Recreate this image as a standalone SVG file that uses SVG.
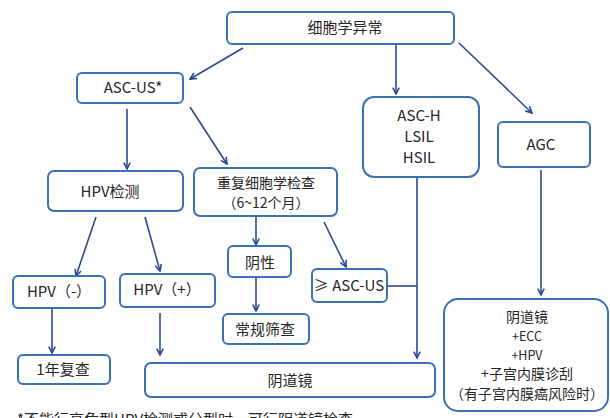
<svg xmlns="http://www.w3.org/2000/svg" width="610" height="418" viewBox="0 0 610 418">
<defs>
<marker id="ah" viewBox="0 0 10 10" refX="9" refY="5" markerWidth="8" markerHeight="8" markerUnits="userSpaceOnUse" orient="auto">
<path d="M1,1 L9,5 L1,9" fill="none" stroke="#2b4a94" stroke-width="2"/>
</marker>
<style>
.box{fill:#fff;stroke:#3d6fb6;stroke-width:2}
.t{font-family:"Noto Sans CJK SC","Open Sans",sans-serif;font-size:15px;fill:#262626;text-anchor:middle}
.m{font-size:14px}
.s{font-size:12.5px}
.c{fill:none;stroke:#2b4a94;stroke-width:1.6}
.a{marker-end:url(#ah)}
</style>
</defs>
<rect width="610" height="418" fill="#fff"/>
<g id="connectors">
<line class="c a" x1="243" y1="48" x2="190" y2="79"/>
<line class="c a" x1="396" y1="45" x2="396" y2="94"/>
<line class="c a" x1="459" y1="43" x2="532" y2="113"/>
<line class="c a" x1="127" y1="109" x2="127" y2="169"/>
<line class="c a" x1="190" y1="107" x2="227" y2="164"/>
<line class="c a" x1="96" y1="217" x2="76" y2="276"/>
<line class="c a" x1="145" y1="217" x2="160" y2="271"/>
<line class="c a" x1="256" y1="217" x2="256" y2="245"/>
<line class="c a" x1="324" y1="222" x2="346" y2="267"/>
<line class="c a" x1="256" y1="278" x2="256" y2="311"/>
<line class="c a" x1="52" y1="309" x2="52" y2="353"/>
<line class="c a" x1="160" y1="313" x2="160" y2="355"/>
<line class="c a" x1="417" y1="178" x2="417" y2="358"/>
<line class="c" x1="387" y1="286" x2="417" y2="286"/>
<line class="c a" x1="541" y1="170" x2="541" y2="295"/>
</g>
<g id="n-cyto"><rect class="box" x="227" y="12" width="227" height="32" rx="5"/><text class="t" x="345" y="33">细胞学异常</text></g>
<g id="n-ascus"><rect class="box" x="77" y="73" width="106" height="30" rx="5"/><text class="t" x="133" y="93">ASC-US*</text></g>
<g id="n-asch"><rect class="box" x="363" y="97" width="116" height="80" rx="11"/><text class="t" x="419" y="121">ASC-H</text><text class="t" x="419" y="142">LSIL</text><text class="t" x="419" y="163">HSIL</text></g>
<g id="n-agc"><rect class="box" x="498" y="122" width="92" height="45" rx="5"/><text class="t" x="541" y="150">AGC</text></g>
<g id="n-hpvtest"><rect class="box" x="48" y="171" width="135" height="40" rx="6"/><text class="t" x="110" y="197">HPV检测</text></g>
<g id="n-repeat"><rect class="box" x="194" y="168" width="143" height="48" rx="6"/><text class="t m" x="266" y="188">重复细胞学检查</text><text class="t m" x="266" y="208">（6~12个月）</text></g>
<g id="n-neg"><rect class="box" x="228" y="246" width="63" height="31" rx="5"/><text class="t" x="260" y="268">阴性</text></g>
<g id="n-geascus"><rect class="box" x="312" y="269" width="75" height="33" rx="5"/><text class="t" x="349" y="291">≥ ASC-US</text></g>
<g id="n-hpvneg"><rect class="box" x="13" y="276" width="92" height="32" rx="5"/><text class="t" x="59" y="297">HPV（-）</text></g>
<g id="n-hpvpos"><rect class="box" x="120" y="274" width="95" height="33" rx="5"/><text class="t" x="167" y="295">HPV（+）</text></g>
<g id="n-routine"><rect class="box" x="223" y="314" width="86" height="30" rx="5"/><text class="t" x="265" y="335">常规筛查</text></g>
<g id="n-1yr"><rect class="box" x="18" y="355" width="92" height="29" rx="5"/><text class="t" x="63" y="375">1年复查</text></g>
<g id="n-colpo"><rect class="box" x="145" y="363" width="290" height="34" rx="6"/><text class="t" x="290" y="386">阴道镜</text></g>
<g id="n-colpo2"><rect class="box" x="444" y="299" width="164" height="112" rx="14"/><text class="t m" x="527" y="322">阴道镜</text><text class="t s" x="527" y="341">+ECC</text><text class="t s" x="527" y="360">+HPV</text><text class="t m" x="527" y="379">+子宫内膜诊刮</text><text class="t m" x="527" y="399">（有子宫内膜癌风险时）</text></g>
<text class="t" x="17" y="425" style="text-anchor:start;font-size:15px">*不能行高危型HPV检测或分型时，可行阴道镜检查</text>
</svg>
